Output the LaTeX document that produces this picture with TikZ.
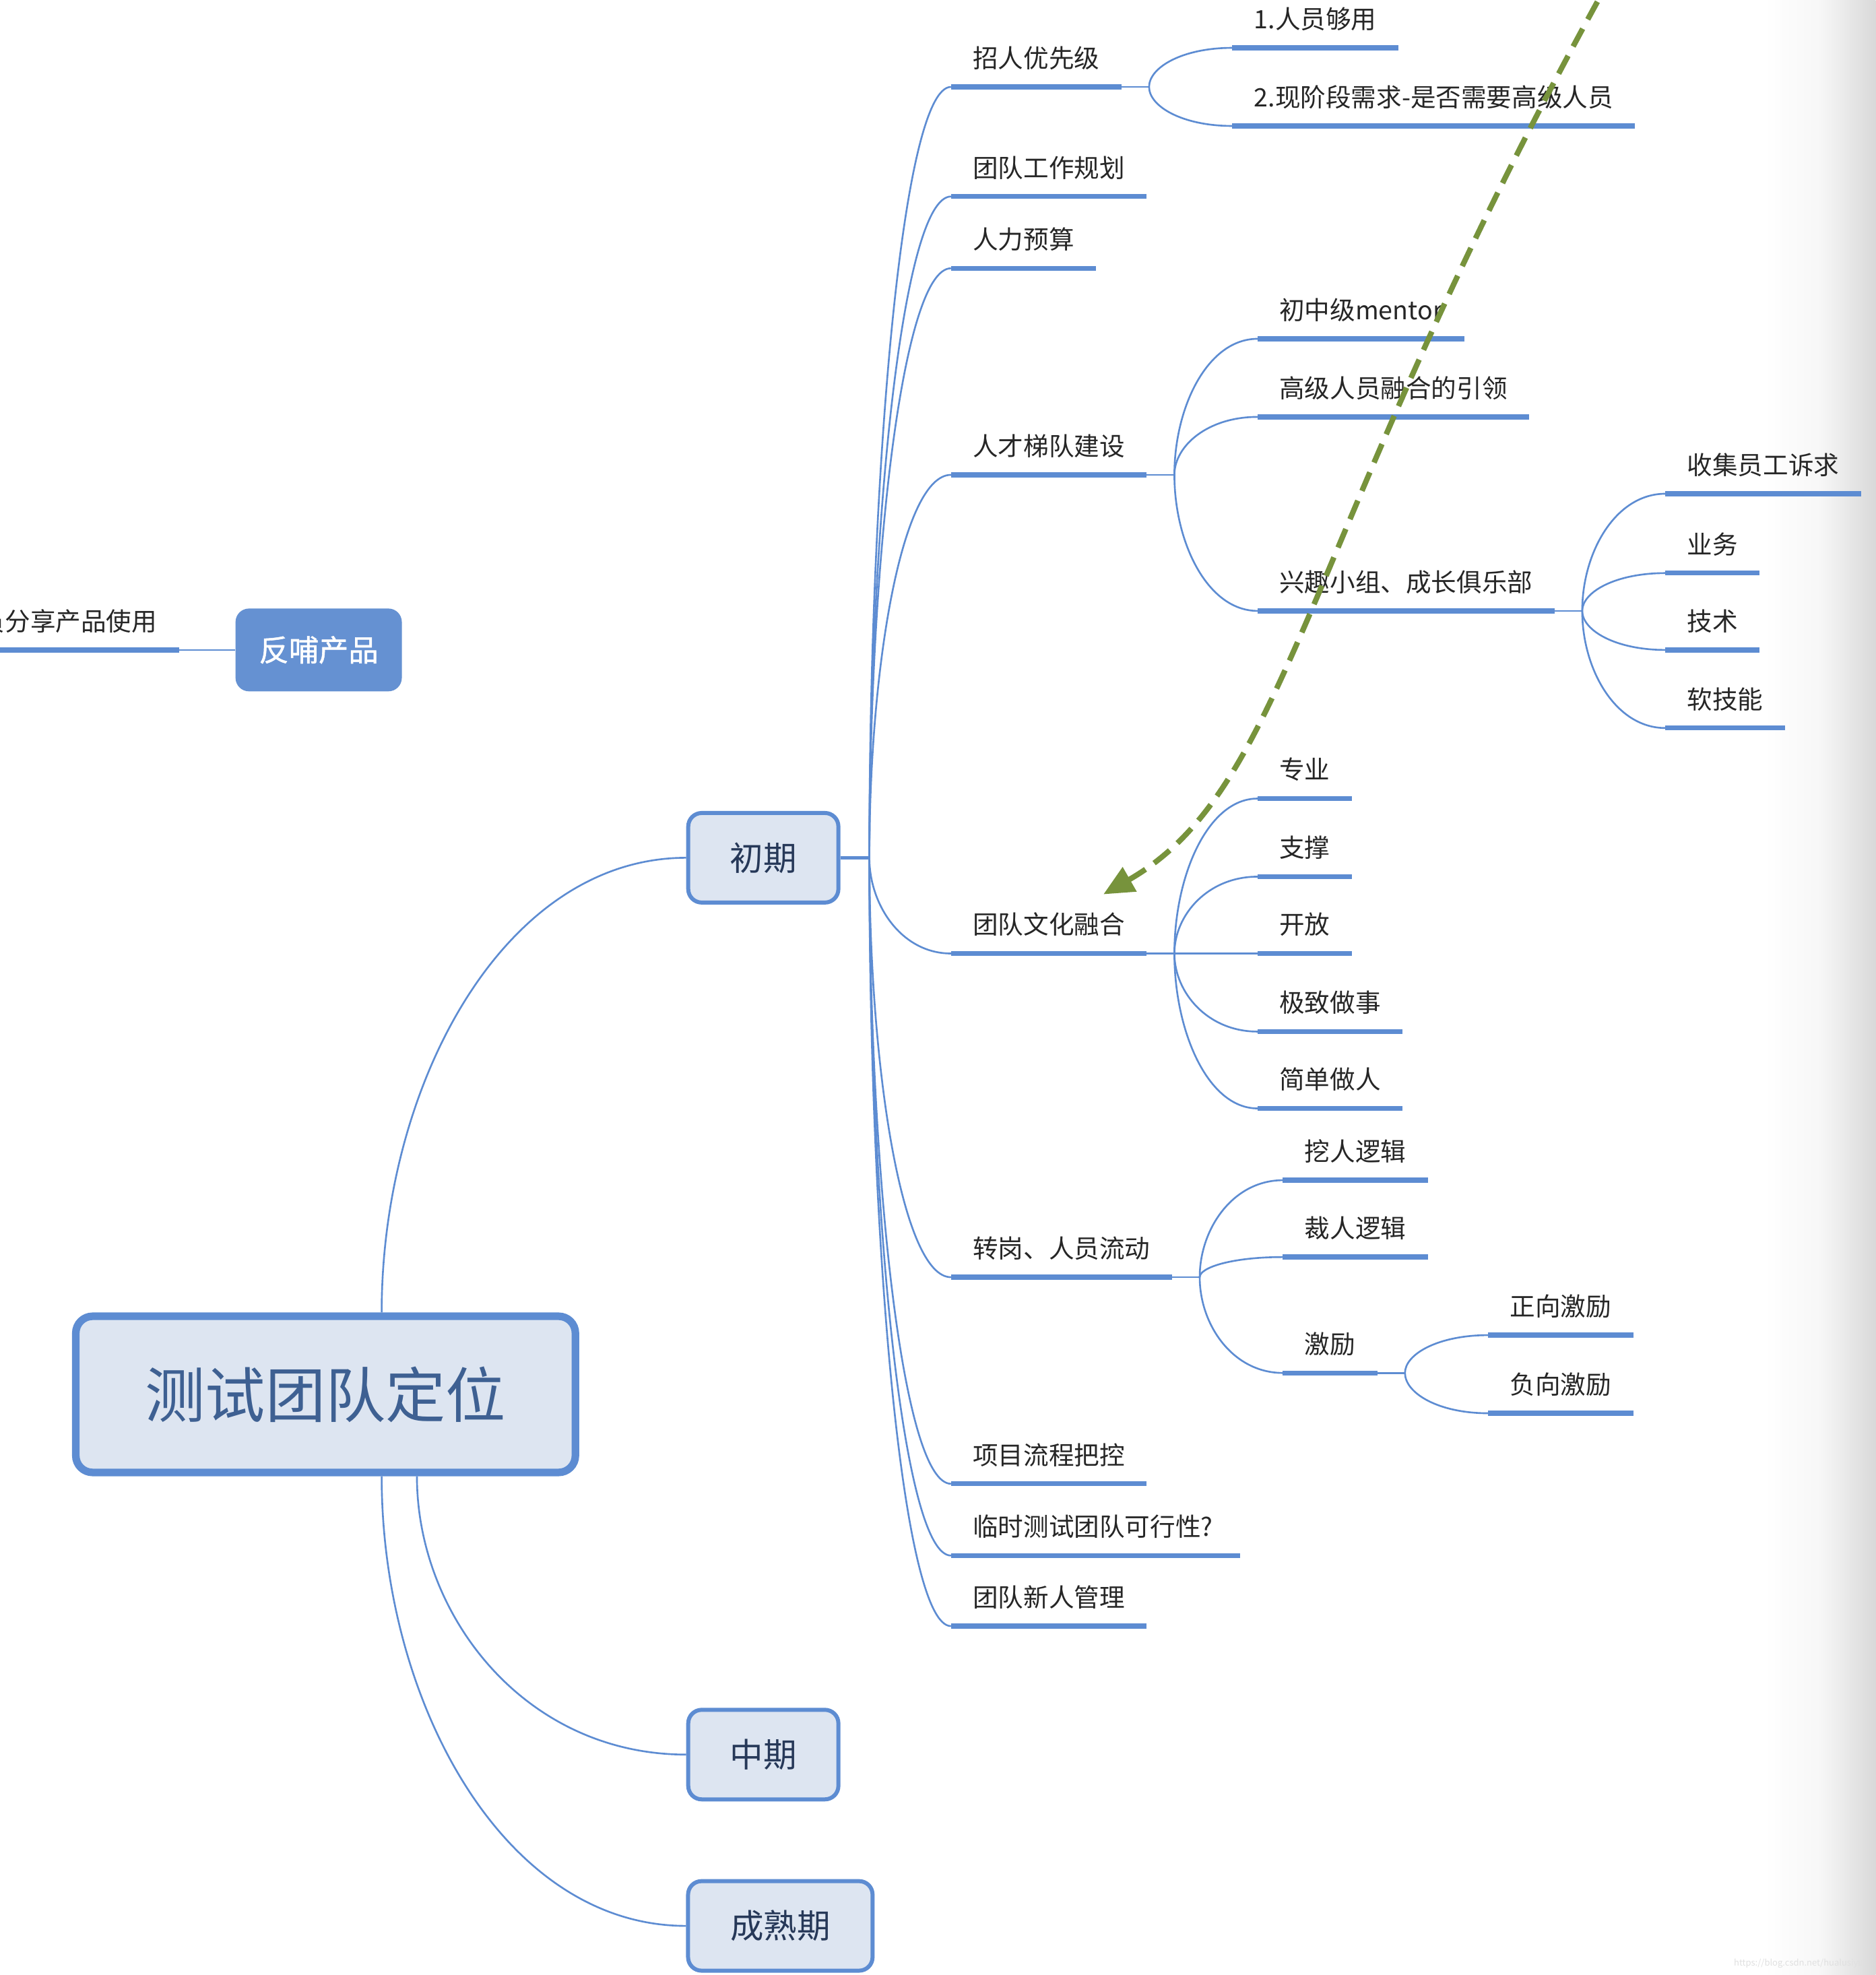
\documentclass[tikz,border=0pt]{standalone}
\usepackage{fontspec}
\setmainfont{Noto Sans CJK SC}
\usepackage{tikz}
\usetikzlibrary{arrows.meta,calc,positioning}
\definecolor{mapblue}{RGB}{93,140,210}
\definecolor{boxfill}{RGB}{221,229,241}
\definecolor{boxtext}{RGB}{38,56,88}
\definecolor{roottext}{RGB}{62,96,146}
\definecolor{feedblue}{RGB}{101,145,210}
\definecolor{hintgreen}{RGB}{119,147,60}

% curved branch from a fork point to the start of a child's underline
\newcommand{\fanout}[2]{\draw[link] (#1) .. controls ($(#1)!0.5!(#1 |- #2)$) and ($(#2)!0.6!(#1 |- #2)$) .. (#2);}

\begin{document}
\begin{tikzpicture}[x=0.0187cm,y=-0.0187cm,
  link/.style={draw=mapblue,line width=0.75pt},
  uline/.style={draw=mapblue,line width=2.1pt},
  leaf/.style={anchor=south west,inner xsep=0.318cm,inner ysep=0.28cm,text depth=0pt,font=\fontsize{10.7}{13}\selectfont,text=black!85},
  topic/.style={draw=mapblue,fill=boxfill,line width=1.7pt,rounded corners=0.2cm,minimum height=1.33cm,font=\fontsize{14.1}{17}\selectfont,text=boxtext},
  hint/.style={draw=hintgreen,line width=2.3pt,dash pattern=on 8.5pt off 4.5pt,-{Triangle[length=0.45cm,width=0.4cm]}}]
  \useasboundingbox (0,0) rectangle (1489,1568);
  \fill[white] (0,0) rectangle (1489,1568);
  \shade[left color=white,right color=black!15,middle color=black!3] (1400,0) rectangle (1489,1568);

  % main topics
  \node[topic,line width=3.2pt,minimum width=7.42cm,minimum height=2.32cm,rounded corners=0.25cm,font=\fontsize{25.4}{30}\selectfont,text=roottext] (root) at (258.5,1107) {测试团队定位};
  \node[topic,minimum width=2.23cm] (early) at (606,681) {初期};
  \node[topic,minimum width=2.23cm] (mid) at (606,1393) {中期};
  \node[topic,minimum width=2.74cm] (mature) at (619.5,1529) {成熟期};
  \node[fill=feedblue,rounded corners=0.2cm,minimum width=2.47cm,minimum height=1.23cm,text=white,font=\fontsize{12.6}{15}\selectfont\addfontfeatures{FakeBold=1.2}] (feedback) at (253,516) {反哺产品};
  \node[leaf,anchor=south east] (share) at (142,516) {员分享产品使用};
  \draw[link] (feedback.west) -- (share.south east);

  \coordinate (root-up) at ($(root.north)+(44.5,0)$);
  \coordinate (root-dn1) at ($(root.south)+(72.5,0)$);
  \coordinate (root-dn2) at ($(root.south)+(44.5,0)$);
  \fanout{root-up}{early.west}
  \fanout{root-dn1}{mid.west}
  \fanout{root-dn2}{mature.west}

  % first level
  \coordinate (early-f) at ($(early.east)+(23,0)$);
  \draw[link,line width=1.6pt] (early.east) -- (early-f);
  \node[leaf] (hire) at (755,69) {招人优先级};
  \node[leaf] (plan) at (755,156) {团队工作规划};
  \node[leaf] (budget) at (755,213) {人力预算};
  \node[leaf] (ladder) at (755,377) {人才梯队建设};
  \node[leaf] (culture) at (755,757) {团队文化融合};
  \node[leaf] (move) at (755,1014) {转岗、人员流动};
  \node[leaf] (process) at (755,1178) {项目流程把控};
  \node[leaf,inner xsep=0.4cm] (temp) at (755,1235) {\hspace{-0.082cm}临时测试团队可行性?};
  \node[leaf] (newbie) at (755,1291) {团队新人管理};
  \foreach \c in {hire,plan,budget,ladder,culture,move,process,temp,newbie}
    {\fanout{early-f}{\c.south west}}

  \foreach \p in {hire,ladder,culture,move} {
    \coordinate (\p-f) at ($(\p.south east)+(22,0)$);
    \draw[link] (\p.south east) -- (\p-f);
  }

  % second level
  \node[leaf] (enough) at ($(hire-f)+(66,-31)$) {1.人员够用};
  \node[leaf] (senior) at ($(hire-f)+(66,31)$) {2.现阶段需求-是否需要高级人员};
  \node[leaf] (mentor) at ($(ladder-f)+(66,-108)$) {初中级mentor};
  \node[leaf] (lead) at ($(ladder-f)+(66,-46)$) {高级人员融合的引领};
  \node[leaf] (club) at ($(ladder-f)+(66,108)$) {兴趣小组、成长俱乐部};
  \node[leaf] (pro) at ($(culture-f)+(66,-123)$) {专业};
  \node[leaf] (support) at ($(culture-f)+(66,-61)$) {支撑};
  \node[leaf] (open) at ($(culture-f)+(66,0)$) {开放};
  \node[leaf] (extreme) at ($(culture-f)+(66,62)$) {极致做事};
  \node[leaf] (simple) at ($(culture-f)+(66,123)$) {简单做人};
  \node[leaf] (poach) at ($(move-f)+(66,-77)$) {挖人逻辑};
  \node[leaf] (layoff) at ($(move-f)+(66,-16)$) {裁人逻辑};
  \node[leaf] (incent) at ($(move-f)+(66,76)$) {激励};
  \foreach \c in {enough,senior} {\fanout{hire-f}{\c.south west}}
  \foreach \c in {mentor,lead,club} {\fanout{ladder-f}{\c.south west}}
  \foreach \c in {pro,support,open,extreme,simple} {\fanout{culture-f}{\c.south west}}
  \foreach \c in {poach,layoff,incent} {\fanout{move-f}{\c.south west}}

  % third level
  \foreach \p in {club,incent} {
    \coordinate (\p-f) at ($(\p.south east)+(22,0)$);
    \draw[link] (\p.south east) -- (\p-f);
  }
  \node[leaf] (collect) at ($(club-f)+(66,-93)$) {收集员工诉求};
  \node[leaf] (biz) at ($(club-f)+(66,-30)$) {业务};
  \node[leaf] (tech) at ($(club-f)+(66,31)$) {技术};
  \node[leaf] (soft) at ($(club-f)+(66,93)$) {软技能};
  \node[leaf] (pos) at ($(incent-f)+(66,-30)$) {正向激励};
  \node[leaf] (neg) at ($(incent-f)+(66,32)$) {负向激励};
  \foreach \c in {collect,biz,tech,soft} {\fanout{club-f}{\c.south west}}
  \foreach \c in {pos,neg} {\fanout{incent-f}{\c.south west}}

  % underlines
  \foreach \n in {share,hire,plan,budget,ladder,culture,move,process,temp,newbie,enough,senior,mentor,lead,club,pro,support,open,extreme,simple,poach,layoff,incent,collect,biz,tech,soft,pos,neg}
    \draw[uline] (\n.south west) -- (\n.south east);

  % dashed hint arrow
  \coordinate (hint-from) at (1280,-20);
  \coordinate (hint-to) at (876,710);
  \draw[hint] (hint-from) .. controls (1035,420) and (1025,625) .. (hint-to);

  \node[font=\fontsize{3.7}{4}\selectfont,text=black!12,anchor=east] (mark) at (1486,1559) {https://blog.csdn.net/hualusiyu};
\end{tikzpicture}
\end{document}
